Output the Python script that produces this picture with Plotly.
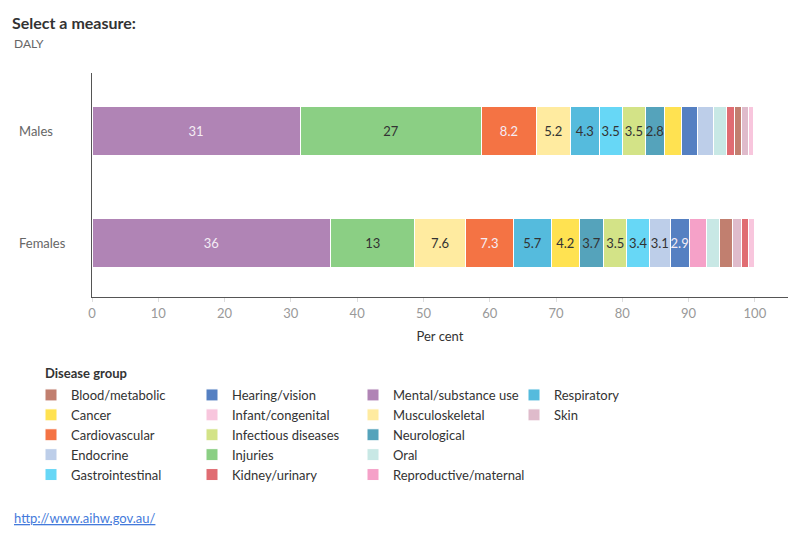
import plotly.graph_objects as go

rows = ["Males", "Females"]
categories = ["Blood/metabolic", "Cancer", "Cardiovascular", "Endocrine", "Gastrointestinal",
              "Hearing/vision", "Infant/congenital", "Infectious diseases", "Injuries", "Kidney/urinary",
              "Mental/substance use", "Musculoskeletal", "Neurological", "Oral", "Reproductive/maternal",
              "Respiratory", "Skin"]
males = [1.05, 2.6, 8.2, 2.3, 3.5,
         2.5, 0.85, 3.5, 27.4, 1.2,
         31.4, 5.2, 2.8, 2.0, 0.0,
         4.3, 1.05]
females = [1.9, 4.2, 7.3, 3.1, 3.4,
           2.9, 0.9, 3.5, 12.7, 1.15,
           36.0, 7.6, 3.7, 2.0, 2.6,
           5.7, 1.35]
colors = ["#C17F6F", "#FFE251", "#F47344", "#BDCEE9", "#67D7F6",
          "#5580C2", "#F8C6DD", "#D3E387", "#8BCF84", "#E06C72",
          "#B084B5", "#FFEBA0", "#55A3BB", "#C8E8E5", "#F5A1C8",
          "#55BBDD", "#DFBBCB"]
light_text = {"Mental/substance use", "Cardiovascular", "Hearing/vision"}
x_ticks = [0, 10, 20, 30, 40, 50, 60, 70, 80, 90, 100]

FONT = "Lato"
fig = go.Figure()

legend_names = ["legend", "legend2", "legend3", "legend4"]
for r, vals in zip(rows, [males, females]):
    order = sorted(range(len(categories)), key=lambda i: -vals[i])
    for i in order:
        v = vals[i]
        txt = f"{v:.2g}" if v >= 2.8 else ""
        show = (r == "Males")
        fig.add_trace(go.Bar(
            y=[r], x=[v], orientation="h", name=categories[i],
            marker=dict(color=colors[i], line=dict(color="white", width=1)),
            text=[txt], textposition="inside", insidetextanchor="middle", textangle=0,
            textfont=dict(family=FONT, size=13,
                          color="#F4ECF4" if categories[i] in light_text else "#333333"),
            showlegend=show, legendgroup=categories[i],
            legend=legend_names[i // 5], legendrank=i,
            hoverinfo="x+name",
        ))

W, H = 800, 550
L, R, T, B = 92, 12, 73, 253
pw, ph = W - L - R, H - T - B

def px_x(x):
    return (x - L) / pw

def px_y(y):
    return (H - B - y) / ph

col_x = [31, 192, 353, 514]
legends = {}
for k, name in enumerate(legend_names):
    legends[name] = dict(
        x=px_x(col_x[k]), y=px_y(380), xanchor="left", yanchor="top",
        orientation="v", font=dict(family=FONT, size=13, color="#333333"),
        bgcolor="rgba(0,0,0,0)", traceorder="normal", tracegroupgap=0,
        itemclick=False, itemdoubleclick=False,
    )

fig.update_layout(
    width=W, height=H,
    margin=dict(l=L, r=R, t=T, b=B),
    barmode="stack", bargap=0.5625,
    plot_bgcolor="white", paper_bgcolor="white",
    font=dict(family=FONT, color="#333333"),
    uniformtext=dict(minsize=13, mode="show"),
    xaxis=dict(range=[0, 105], tickvals=x_ticks, ticks="outside", ticklen=4, tickcolor="#dddddd",
               showgrid=False, zeroline=False, showline=True, linecolor="#555555", linewidth=1,
               tickfont=dict(family=FONT, size=13, color="#999999"),
               title=dict(text="Per cent", font=dict(family=FONT, size=13, color="#333333"), standoff=12)),
    yaxis=dict(categoryorder="array", categoryarray=rows[::-1], showticklabels=False,
               showgrid=False, zeroline=False, showline=True, linecolor="#555555", linewidth=1,
               range=[-0.48, 1.52]),
    **legends,
)

for r in rows:
    fig.add_annotation(x=px_x(17), xref="paper", y=r, yref="y", text=r, showarrow=False,
                       xanchor="left", yanchor="middle",
                       font=dict(family=FONT, size=13, color="#666666"))

fig.add_annotation(x=px_x(10), xref="paper", y=px_y(22), yref="paper", text="<b>Select a measure:</b>",
                   showarrow=False, xanchor="left", yanchor="middle",
                   font=dict(family=FONT, size=16, color="#333333"))
fig.add_annotation(x=px_x(12), xref="paper", y=px_y(43), yref="paper", text="DALY",
                   showarrow=False, xanchor="left", yanchor="middle",
                   font=dict(family=FONT, size=12, color="#666666"))
fig.add_annotation(x=px_x(43), xref="paper", y=px_y(373), yref="paper", text="<b>Disease group</b>",
                   showarrow=False, xanchor="left", yanchor="middle",
                   font=dict(family=FONT, size=13, color="#333333"))
fig.add_annotation(x=px_x(12), xref="paper", y=px_y(518), yref="paper",
                   text="<a href='http://www.aihw.gov.au/'><u>http://www.aihw.gov.au/</u></a>",
                   showarrow=False, xanchor="left", yanchor="middle",
                   font=dict(family=FONT, size=13, color="#6AA6D2"))

fig.write_html("out.html")
